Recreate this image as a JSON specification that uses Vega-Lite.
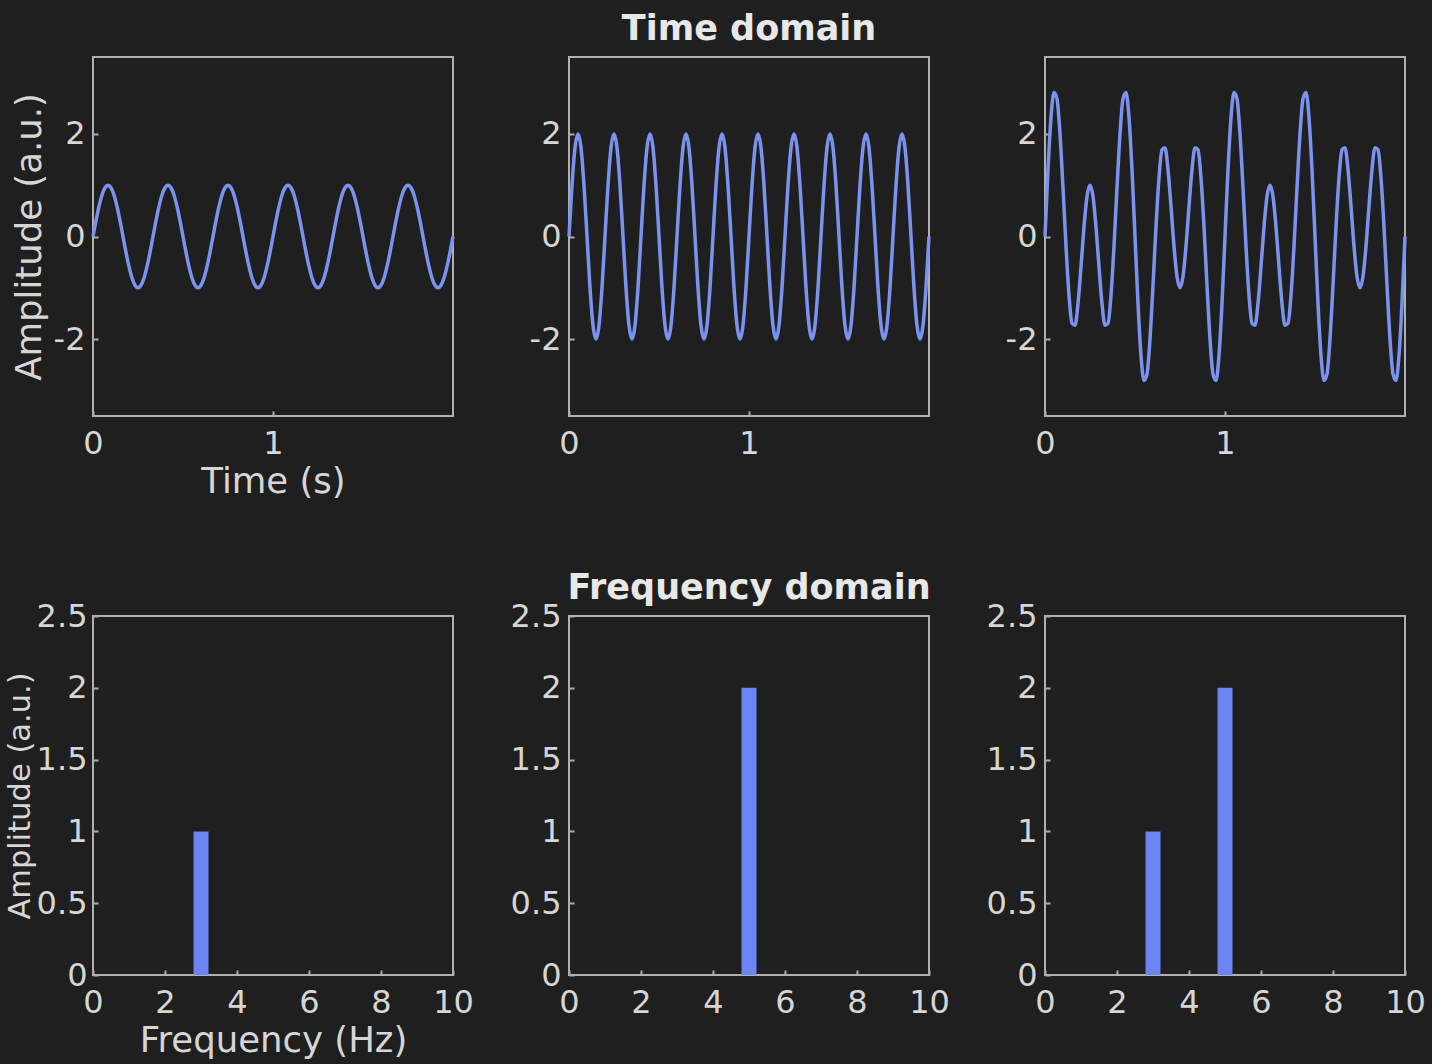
{
  "$schema": "https://vega.github.io/schema/vega-lite/v6.json",
  "background": "#1f1f1f",
  "padding": {"left": 4, "top": 11, "right": 5, "bottom": 5},
  "datasets": {
    "time": [
      {"t":0,"a":0,"b":0,"c":0},
      {"t":0.0167,"a":0.309,"b":1,"c":1.309},
      {"t":0.0333,"a":0.588,"b":1.732,"c":2.32},
      {"t":0.05,"a":0.809,"b":2,"c":2.809},
      {"t":0.0667,"a":0.951,"b":1.732,"c":2.683},
      {"t":0.0833,"a":1,"b":1,"c":2},
      {"t":0.1,"a":0.951,"b":0,"c":0.951},
      {"t":0.1167,"a":0.809,"b":-1,"c":-0.191},
      {"t":0.1333,"a":0.588,"b":-1.732,"c":-1.144},
      {"t":0.15,"a":0.309,"b":-2,"c":-1.691},
      {"t":0.1667,"a":0,"b":-1.732,"c":-1.732},
      {"t":0.1833,"a":-0.309,"b":-1,"c":-1.309},
      {"t":0.2,"a":-0.588,"b":0,"c":-0.588},
      {"t":0.2167,"a":-0.809,"b":1,"c":0.191},
      {"t":0.2333,"a":-0.951,"b":1.732,"c":0.781},
      {"t":0.25,"a":-1,"b":2,"c":1},
      {"t":0.2667,"a":-0.951,"b":1.732,"c":0.781},
      {"t":0.2833,"a":-0.809,"b":1,"c":0.191},
      {"t":0.3,"a":-0.588,"b":0,"c":-0.588},
      {"t":0.3167,"a":-0.309,"b":-1,"c":-1.309},
      {"t":0.3333,"a":0,"b":-1.732,"c":-1.732},
      {"t":0.35,"a":0.309,"b":-2,"c":-1.691},
      {"t":0.3667,"a":0.588,"b":-1.732,"c":-1.144},
      {"t":0.3833,"a":0.809,"b":-1,"c":-0.191},
      {"t":0.4,"a":0.951,"b":0,"c":0.951},
      {"t":0.4167,"a":1,"b":1,"c":2},
      {"t":0.4333,"a":0.951,"b":1.732,"c":2.683},
      {"t":0.45,"a":0.809,"b":2,"c":2.809},
      {"t":0.4667,"a":0.588,"b":1.732,"c":2.32},
      {"t":0.4833,"a":0.309,"b":1,"c":1.309},
      {"t":0.5,"a":0,"b":0,"c":0},
      {"t":0.5167,"a":-0.309,"b":-1,"c":-1.309},
      {"t":0.5333,"a":-0.588,"b":-1.732,"c":-2.32},
      {"t":0.55,"a":-0.809,"b":-2,"c":-2.809},
      {"t":0.5667,"a":-0.951,"b":-1.732,"c":-2.683},
      {"t":0.5833,"a":-1,"b":-1,"c":-2},
      {"t":0.6,"a":-0.951,"b":0,"c":-0.951},
      {"t":0.6167,"a":-0.809,"b":1,"c":0.191},
      {"t":0.6333,"a":-0.588,"b":1.732,"c":1.144},
      {"t":0.65,"a":-0.309,"b":2,"c":1.691},
      {"t":0.6667,"a":0,"b":1.732,"c":1.732},
      {"t":0.6833,"a":0.309,"b":1,"c":1.309},
      {"t":0.7,"a":0.588,"b":0,"c":0.588},
      {"t":0.7167,"a":0.809,"b":-1,"c":-0.191},
      {"t":0.7333,"a":0.951,"b":-1.732,"c":-0.781},
      {"t":0.75,"a":1,"b":-2,"c":-1},
      {"t":0.7667,"a":0.951,"b":-1.732,"c":-0.781},
      {"t":0.7833,"a":0.809,"b":-1,"c":-0.191},
      {"t":0.8,"a":0.588,"b":0,"c":0.588},
      {"t":0.8167,"a":0.309,"b":1,"c":1.309},
      {"t":0.8333,"a":0,"b":1.732,"c":1.732},
      {"t":0.85,"a":-0.309,"b":2,"c":1.691},
      {"t":0.8667,"a":-0.588,"b":1.732,"c":1.144},
      {"t":0.8833,"a":-0.809,"b":1,"c":0.191},
      {"t":0.9,"a":-0.951,"b":0,"c":-0.951},
      {"t":0.9167,"a":-1,"b":-1,"c":-2},
      {"t":0.9333,"a":-0.951,"b":-1.732,"c":-2.683},
      {"t":0.95,"a":-0.809,"b":-2,"c":-2.809},
      {"t":0.9667,"a":-0.588,"b":-1.732,"c":-2.32},
      {"t":0.9833,"a":-0.309,"b":-1,"c":-1.309},
      {"t":1,"a":0,"b":0,"c":0},
      {"t":1.0167,"a":0.309,"b":1,"c":1.309},
      {"t":1.0333,"a":0.588,"b":1.732,"c":2.32},
      {"t":1.05,"a":0.809,"b":2,"c":2.809},
      {"t":1.0667,"a":0.951,"b":1.732,"c":2.683},
      {"t":1.0833,"a":1,"b":1,"c":2},
      {"t":1.1,"a":0.951,"b":0,"c":0.951},
      {"t":1.1167,"a":0.809,"b":-1,"c":-0.191},
      {"t":1.1333,"a":0.588,"b":-1.732,"c":-1.144},
      {"t":1.15,"a":0.309,"b":-2,"c":-1.691},
      {"t":1.1667,"a":0,"b":-1.732,"c":-1.732},
      {"t":1.1833,"a":-0.309,"b":-1,"c":-1.309},
      {"t":1.2,"a":-0.588,"b":0,"c":-0.588},
      {"t":1.2167,"a":-0.809,"b":1,"c":0.191},
      {"t":1.2333,"a":-0.951,"b":1.732,"c":0.781},
      {"t":1.25,"a":-1,"b":2,"c":1},
      {"t":1.2667,"a":-0.951,"b":1.732,"c":0.781},
      {"t":1.2833,"a":-0.809,"b":1,"c":0.191},
      {"t":1.3,"a":-0.588,"b":0,"c":-0.588},
      {"t":1.3167,"a":-0.309,"b":-1,"c":-1.309},
      {"t":1.3333,"a":0,"b":-1.732,"c":-1.732},
      {"t":1.35,"a":0.309,"b":-2,"c":-1.691},
      {"t":1.3667,"a":0.588,"b":-1.732,"c":-1.144},
      {"t":1.3833,"a":0.809,"b":-1,"c":-0.191},
      {"t":1.4,"a":0.951,"b":0,"c":0.951},
      {"t":1.4167,"a":1,"b":1,"c":2},
      {"t":1.4333,"a":0.951,"b":1.732,"c":2.683},
      {"t":1.45,"a":0.809,"b":2,"c":2.809},
      {"t":1.4667,"a":0.588,"b":1.732,"c":2.32},
      {"t":1.4833,"a":0.309,"b":1,"c":1.309},
      {"t":1.5,"a":0,"b":0,"c":0},
      {"t":1.5167,"a":-0.309,"b":-1,"c":-1.309},
      {"t":1.5333,"a":-0.588,"b":-1.732,"c":-2.32},
      {"t":1.55,"a":-0.809,"b":-2,"c":-2.809},
      {"t":1.5667,"a":-0.951,"b":-1.732,"c":-2.683},
      {"t":1.5833,"a":-1,"b":-1,"c":-2},
      {"t":1.6,"a":-0.951,"b":0,"c":-0.951},
      {"t":1.6167,"a":-0.809,"b":1,"c":0.191},
      {"t":1.6333,"a":-0.588,"b":1.732,"c":1.144},
      {"t":1.65,"a":-0.309,"b":2,"c":1.691},
      {"t":1.6667,"a":0,"b":1.732,"c":1.732},
      {"t":1.6833,"a":0.309,"b":1,"c":1.309},
      {"t":1.7,"a":0.588,"b":0,"c":0.588},
      {"t":1.7167,"a":0.809,"b":-1,"c":-0.191},
      {"t":1.7333,"a":0.951,"b":-1.732,"c":-0.781},
      {"t":1.75,"a":1,"b":-2,"c":-1},
      {"t":1.7667,"a":0.951,"b":-1.732,"c":-0.781},
      {"t":1.7833,"a":0.809,"b":-1,"c":-0.191},
      {"t":1.8,"a":0.588,"b":0,"c":0.588},
      {"t":1.8167,"a":0.309,"b":1,"c":1.309},
      {"t":1.8333,"a":0,"b":1.732,"c":1.732},
      {"t":1.85,"a":-0.309,"b":2,"c":1.691},
      {"t":1.8667,"a":-0.588,"b":1.732,"c":1.144},
      {"t":1.8833,"a":-0.809,"b":1,"c":0.191},
      {"t":1.9,"a":-0.951,"b":0,"c":-0.951},
      {"t":1.9167,"a":-1,"b":-1,"c":-2},
      {"t":1.9333,"a":-0.951,"b":-1.732,"c":-2.683},
      {"t":1.95,"a":-0.809,"b":-2,"c":-2.809},
      {"t":1.9667,"a":-0.588,"b":-1.732,"c":-2.32},
      {"t":1.9833,"a":-0.309,"b":-1,"c":-1.309},
      {"t":2,"a":0,"b":0,"c":0}
    ],
    "freq": [
      {"panel":1,"f":3,"amp":1},
      {"panel":2,"f":5,"amp":2},
      {"panel":3,"f":3,"amp":1},
      {"panel":3,"f":5,"amp":2}
    ]
  },
  "columns": 3,
  "spacing": {"row": 200, "column": 116},
  "bounds": "flush",
  "concat": [
    {
      "width": 360, "height": 359,
      "data": {"name": "time"},
      "mark": {"type": "line", "color": "#7b92ee", "strokeWidth": 3.5, "interpolate": "monotone"},
      "encoding": {
        "x": {"field": "t", "type": "quantitative", "scale": {"domain": [0, 2], "nice": false, "zero": false}, "axis": {"values": [0, 1], "title": "Time (s)"}},
        "y": {"field": "a", "type": "quantitative", "scale": {"domain": [-3.5, 3.5], "nice": false}, "axis": {"values": [-2, 0, 2], "labelExpr": "'' + datum.value", "title": "Amplitude (a.u.)"}}
      }
    },
    {
      "width": 360, "height": 359,
      "title": {"text": "Time domain"},
      "data": {"name": "time"},
      "mark": {"type": "line", "color": "#7b92ee", "strokeWidth": 3.5, "interpolate": "monotone"},
      "encoding": {
        "x": {"field": "t", "type": "quantitative", "scale": {"domain": [0, 2], "nice": false, "zero": false}, "axis": {"values": [0, 1], "title": null}},
        "y": {"field": "b", "type": "quantitative", "scale": {"domain": [-3.5, 3.5], "nice": false}, "axis": {"values": [-2, 0, 2], "labelExpr": "'' + datum.value", "title": null}}
      }
    },
    {
      "width": 360, "height": 359,
      "data": {"name": "time"},
      "mark": {"type": "line", "color": "#7b92ee", "strokeWidth": 3.5, "interpolate": "monotone"},
      "encoding": {
        "x": {"field": "t", "type": "quantitative", "scale": {"domain": [0, 2], "nice": false, "zero": false}, "axis": {"values": [0, 1], "title": null}},
        "y": {"field": "c", "type": "quantitative", "scale": {"domain": [-3.5, 3.5], "nice": false}, "axis": {"values": [-2, 0, 2], "labelExpr": "'' + datum.value", "title": null}}
      }
    },
    {
      "width": 360, "height": 359,
      "data": {"name": "freq"},
      "transform": [{"filter": "datum.panel == 1"}],
      "mark": {"type": "bar", "color": "#6b85f5", "size": 15},
      "encoding": {
        "x": {"field": "f", "type": "quantitative", "scale": {"domain": [0, 10], "nice": false, "padding": 0}, "axis": {"values": [0, 2, 4, 6, 8, 10], "title": "Frequency (Hz)"}},
        "y": {"field": "amp", "type": "quantitative", "scale": {"domain": [0, 2.5], "nice": false}, "axis": {"values": [0, 0.5, 1, 1.5, 2, 2.5], "labelExpr": "'' + datum.value", "title": "Amplitude (a.u.)", "titlePadding": 1, "titleFontSize": 30.5, "labelPadding": 11}}
      }
    },
    {
      "width": 360, "height": 359,
      "title": {"text": "Frequency domain", "offset": -6},
      "data": {"name": "freq"},
      "transform": [{"filter": "datum.panel == 2"}],
      "mark": {"type": "bar", "color": "#6b85f5", "size": 15},
      "encoding": {
        "x": {"field": "f", "type": "quantitative", "scale": {"domain": [0, 10], "nice": false, "padding": 0}, "axis": {"values": [0, 2, 4, 6, 8, 10], "title": null}},
        "y": {"field": "amp", "type": "quantitative", "scale": {"domain": [0, 2.5], "nice": false}, "axis": {"values": [0, 0.5, 1, 1.5, 2, 2.5], "labelExpr": "'' + datum.value", "title": null}}
      }
    },
    {
      "width": 360, "height": 359,
      "data": {"name": "freq"},
      "transform": [{"filter": "datum.panel == 3"}],
      "mark": {"type": "bar", "color": "#6b85f5", "size": 15},
      "encoding": {
        "x": {"field": "f", "type": "quantitative", "scale": {"domain": [0, 10], "nice": false, "padding": 0}, "axis": {"values": [0, 2, 4, 6, 8, 10], "title": null}},
        "y": {"field": "amp", "type": "quantitative", "scale": {"domain": [0, 2.5], "nice": false}, "axis": {"values": [0, 0.5, 1, 1.5, 2, 2.5], "labelExpr": "'' + datum.value", "title": null}}
      }
    }
  ],
  "config": {
    "font": "DejaVu Sans",
    "view": {"stroke": "#b0b0b0", "strokeWidth": 2},
    "axis": {
      "domain": false, "grid": false,
      "ticks": true, "tickColor": "#b0b0b0", "tickSize": -5, "tickWidth": 2,
      "labelColor": "#d6d6d6", "labelFont": "DejaVu Sans", "labelFontSize": 32,
      "labelFlush": false, "labelOverlap": false,
      "titleColor": "#d6d6d6", "titleFont": "DejaVu Sans", "titleFontSize": 35.5, "titleFontWeight": "normal"
    },
    "axisX": {"labelPadding": 17, "titlePadding": 5},
    "axisY": {"labelPadding": 13, "titlePadding": 6},
    "title": {"font": "DejaVu Sans", "fontSize": 35, "fontWeight": "bold", "color": "#e8e8e8", "offset": 10}
  }
}
